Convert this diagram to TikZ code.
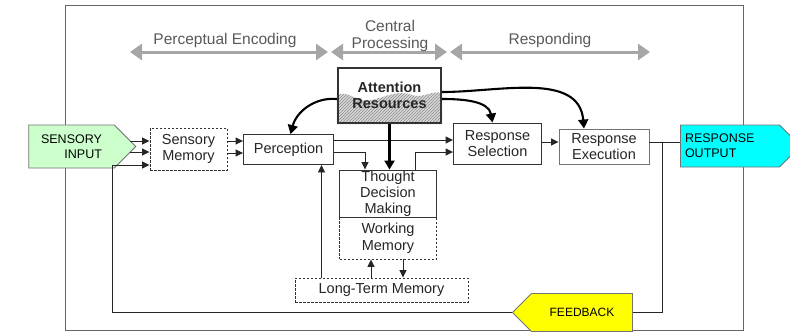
\documentclass[tikz,border=0pt]{standalone}
\usepackage{fontspec}
\setmainfont{Liberation Sans}
\usetikzlibrary{arrows.meta,shapes.symbols,patterns,backgrounds}
\definecolor{inputgreen}{RGB}{204,255,204}
\definecolor{outputcyan}{RGB}{0,255,255}
\definecolor{feedyellow}{RGB}{255,255,0}
\tikzset{
  box/.style={draw=black!80, line width=0.9pt, fill=white, align=center, inner sep=1pt,
    text=black!85, font=\fontsize{14.5}{16.5}\selectfont},
  dbox/.style={box, dash pattern=on 2.5pt off 1.5pt},
  tag/.style={shape=signal, draw=black!55, line width=0.8pt, align=left, inner sep=1pt,
    font=\fontsize{12.5}{15}\selectfont},
  link/.style={draw=black!85, line width=0.9pt},
  arrow/.style={link, -{Triangle[length=7.5pt,width=7pt]}},
  attn arrow/.style={draw=black, line width=2.1pt, -{Triangle[length=9pt,width=10pt]}},
  phase/.style={draw=gray!70, line width=3pt, {Triangle[length=12pt,width=16pt]}-{Triangle[length=12pt,width=16pt]}},
  phaselabel/.style={text=black!65, font=\fontsize{15.5}{17}\selectfont, align=center},
  frame/.style={draw=black!60, line width=0.8pt}
}

\begin{document}
\begin{tikzpicture}[x=1pt, y=-1pt]
  \useasboundingbox (0,0) rectangle (790,333);
  \draw[frame] (65,5) rectangle (743,330);

  % stages
  \draw[phase] (130,52) -- (328,52);
  \draw[phase] (331,52) -- (447,52);
  \draw[phase] (450,52) -- (650,52);
  \node[phaselabel] (encode) at (225,40) {Perceptual Encoding};
  \node[phaselabel] (central) at (390,36) {Central\\Processing};
  \node[phaselabel] (respond) at (550,40) {Responding};

  % boxes
  \node[box, fill=none, minimum width=103, minimum height=55, line width=2.4pt,
    font=\bfseries\fontsize{14.5}{16.5}\selectfont] (attn) at (389.5,95.5) {Attention\\Resources};
  \begin{scope}[on background layer]
    \path[fill=gray!30, postaction={pattern=north east lines, pattern color=black!45}]
      (attn.west |- 0,96) .. controls (348,88) and (356,104) .. (372,100)
      .. controls (388,96) and (398,90) .. (412,95)
      .. controls (422,99) and (432,90) .. (attn.east |- 0,93)
      -- (attn.south east) -- (attn.south west) -- cycle;
  \end{scope}
  \node[tag, signal to=east, fill=inputgreen, minimum width=107, minimum height=43, align=right] (sensin) at (71.5,146.5) {SENSORY\\INPUT};
  \node[dbox, minimum width=77, minimum height=42] (smem) at (188.5,149) {Sensory\\Memory};
  \node[box, minimum width=90, minimum height=30] (percep) at (288.5,149.5) {Perception};
  \node[dbox, minimum width=97, minimum height=42] (wmem) at (388,238) {Working\\Memory};
  \node[box, minimum width=97, minimum height=47, inner sep=0pt, font=\fontsize{14.5}{16}\selectfont] (think) at (388,193.5) {Thought\\Decision\\Making};
  \node[dbox, minimum width=173, minimum height=24] (ltm) at (381.5,290) {Long-Term Memory};
  \node[box, minimum width=88, minimum height=41] (rsel) at (497.5,143.5) {Response\\Selection};
  \node[box, minimum width=90, minimum height=35, draw=black!55] (rexe) at (604,146.5) {Response\\Execution};
  \node[tag, signal to=east, fill=outputcyan, minimum width=120, minimum height=42, text width=90] (rout) at (730,146) {RESPONSE\\OUTPUT};
  \node[tag, signal to=west, fill=feedyellow, minimum width=120, minimum height=38,
    font=\fontsize{12}{14}\selectfont] (fb) at (582,312.5) {FEEDBACK};

  \coordinate (fbleft) at (112,165);
  \coordinate (fbright) at (662,142);

  % connectors
  \draw[arrow] ([xshift=-6pt]sensin.east |- 0,141) -- (smem.west |- 0,141);
  \draw[arrow] ([xshift=-6pt]sensin.east |- 0,152) -- (smem.west |- 0,152);
  \draw[arrow] (fb.west) -| (fbleft) -- (smem.west |- fbleft);
  \draw[arrow] (smem.east |- 0,141) -- (percep.west |- 0,141);
  \draw[arrow] (smem.east |- 0,153) -- (percep.west |- 0,153);
  \draw[arrow] (percep.east |- 0,140) -- (rsel.west |- 0,140);
  \draw[arrow] (percep.east |- 0,152) -| ([xshift=-23pt]think.north);
  \draw[arrow] ([xshift=27pt]think.north) |- (rsel.west |- 0,152);
  \draw[arrow] ([xshift=33pt]percep.south |- ltm.north) -- ([xshift=33pt]percep.south);
  \draw[arrow] ([xshift=-17pt]wmem.south |- ltm.north) -- ([xshift=-17pt]wmem.south);
  \draw[arrow] ([xshift=15pt]wmem.south) -- ([xshift=15pt]wmem.south |- ltm.north);
  \draw[arrow] (rsel.east |- 0,142) -- (rexe.west |- 0,142);
  \draw[link] (rexe.east |- fbright) -- (rout.west |- fbright);
  \draw[link] (fbright) |- (fb.east);

  % attention
  \draw[attn arrow] (attn.south) -- (attn.south |- think.north);
  \draw[attn arrow] ([yshift=-3.5pt]attn.west) to[out=175,in=75] ([xshift=2pt]percep.north);
  \draw[attn arrow] ([yshift=-3.5pt]attn.east) to[out=0,in=100] ([xshift=-5pt]rsel.north);
  \draw[attn arrow] ([yshift=3.5pt]attn.east) to[out=0,in=95] ([xshift=-20pt]rexe.north);
\end{tikzpicture}
\end{document}
